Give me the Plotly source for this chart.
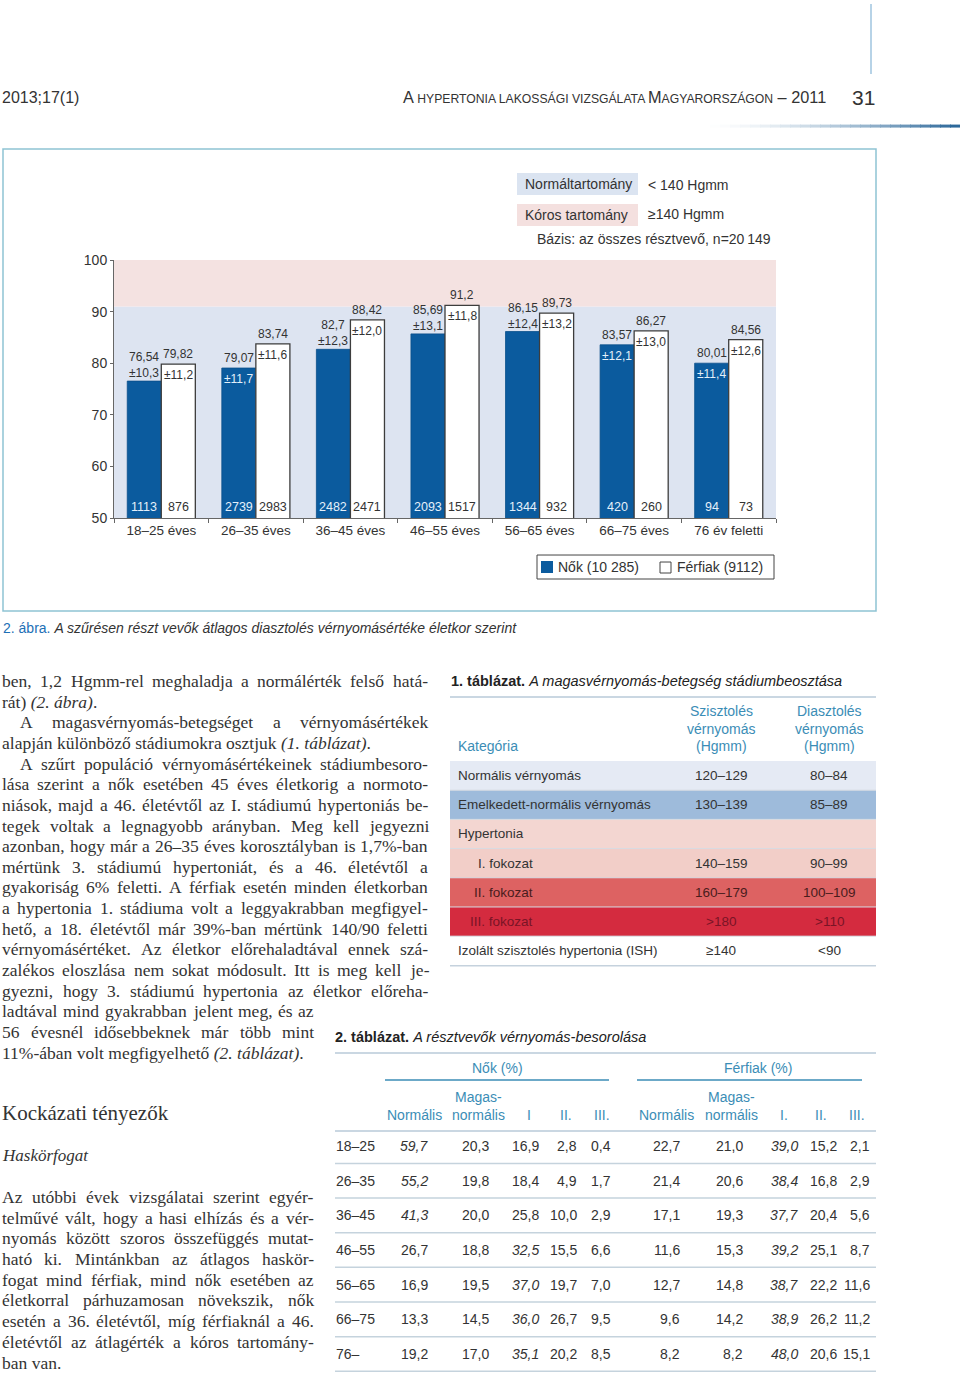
import plotly.graph_objects as go

W, H = 960, 1377
SANS = "Liberation Sans, Arial, Helvetica, sans-serif"
SERIF = "Liberation Serif, Times New Roman, serif"
TXT = "#333333"
TEAL = "#3b8db6"
BLUE = "#0b5b9e"
BAND_BLUE = "#dde4f1"
BAND_PINK = "#f4e2e1"

# ---------------- chart data ----------------
age_groups = ["18–25 éves", "26–35 éves", "36–45 éves", "46–55 éves",
              "56–65 éves", "66–75 éves", "76 év feletti"]
women_mean = [76.54, 79.07, 82.70, 85.69, 86.15, 83.57, 80.01]
men_mean = [79.82, 83.74, 88.42, 91.20, 89.73, 86.27, 84.56]
women_sd = [10.3, 11.7, 12.3, 13.1, 12.4, 12.1, 11.4]
men_sd = [11.2, 11.6, 12.0, 11.8, 13.2, 13.0, 12.6]
women_n = [1113, 2739, 2482, 2093, 1344, 420, 94]
men_n = [876, 2983, 2471, 1517, 932, 260, 73]
y_ticks = [50, 60, 70, 80, 90, 100]
band_split = 91
legend_women = "Nők (10 285)"
legend_men = "Férfiak (9112)"

# style: whether the women SD label sits inside the bar
WOMEN_SD_INSIDE = [False, True, False, False, False, True, True]

# ---------------- table 1 data ----------------
t1_categories = ["Normális vérnyomás", "Emelkedett-normális vérnyomás", "Hypertonia",
                 "I. fokozat", "II. fokozat", "III. fokozat",
                 "Izolált szisztolés hypertonia (ISH)"]
t1_systolic = ["120–129", "130–139", "", "140–159", "160–179", "&gt;180", "≥140"]
t1_diastolic = ["80–84", "85–89", "", "90–99", "100–109", "&gt;110", "&lt;90"]

# ---------------- table 2 data ----------------
t2_ages = ["18–25", "26–35", "36–45", "46–55", "56–65", "66–75", "76–"]
women_normal = [59.7, 55.2, 41.3, 26.7, 16.9, 13.3, 19.2]
women_highnormal = [20.3, 19.8, 20.0, 18.8, 19.5, 14.5, 17.0]
women_I = [16.9, 18.4, 25.8, 32.5, 37.0, 36.0, 35.1]
women_II = [2.8, 4.9, 10.0, 15.5, 19.7, 26.7, 20.2]
women_III = [0.4, 1.7, 2.9, 6.6, 7.0, 9.5, 8.5]
men_normal = [22.7, 21.4, 17.1, 11.6, 12.7, 9.6, 8.2]
men_highnormal = [21.0, 20.6, 19.3, 15.3, 14.8, 14.2, 8.2]
men_I = [39.0, 38.4, 37.7, 39.2, 38.7, 38.9, 48.0]
men_II = [15.2, 16.8, 20.4, 25.1, 22.2, 26.2, 20.6]
men_III = [2.1, 2.9, 5.6, 8.7, 11.6, 11.2, 15.1]

# ---------------- body text ----------------
body_lines = [
    ("ben, 1,2 Hgmm-rel meghaladja a normálérték felső hatá-", True),
    ("rát) <i>(2. ábra)</i>.", False),
    ("A magasvérnyomás-betegséget a vérnyomásértékek", True),
    ("alapján különböző stádiumokra osztjuk <i>(1. táblázat)</i>.", False),
    ("A szűrt populáció vérnyomásértékeinek stádiumbesoro-", True),
    ("lása szerint a nők esetében 45 éves életkorig a normoto-", True),
    ("niások, majd a 46. életévtől az I. stádiumú hypertoniás be-", True),
    ("tegek voltak a legnagyobb arányban. Meg kell jegyezni", True),
    ("azonban, hogy már a 26–35 éves korosztályban is 1,7%-ban", True),
    ("mértünk 3. stádiumú hypertoniát, és a 46. életévtől a", True),
    ("gyakoriság 6% feletti. A férfiak esetén minden életkorban", True),
    ("a hypertonia 1. stádiuma volt a leggyakrabban megfigyel-", True),
    ("hető, a 18. életévtől már 39%-ban mértünk 140/90 feletti", True),
    ("vérnyomásértéket. Az életkor előrehaladtával ennek szá-", True),
    ("zalékos eloszlása nem sokat módosult. Itt is meg kell je-", True),
    ("gyezni, hogy 3. stádiumú hypertonia az életkor előreha-", True),
    ("ladtával mind gyakrabban jelent meg, és az", True),
    ("56 évesnél idősebbeknek már több mint", True),
    ("11%-ában volt megfigyelhető <i>(2. táblázat)</i>.", False),
]
BODY_INDENT = [0, 0, 18, 0, 18] + [0] * 14
BODY_RIGHT = [428] * 16 + [314, 314, 314]

section_title = "Kockázati tényezők"
sub_title = "Haskörfogat"
para2_lines = [
    ("Az utóbbi évek vizsgálatai szerint egyér-", True),
    ("telművé vált, hogy a hasi elhízás és a vér-", True),
    ("nyomás között szoros összefüggés mutat-", True),
    ("ható ki. Mintánkban az átlagos haskör-", True),
    ("fogat mind férfiak, mind nők esetében az", True),
    ("életkorral párhuzamosan növekszik, nők", True),
    ("esetén a 36. életévtől, míg férfiaknál a 46.", True),
    ("életévtől az átlagérték a kóros tartomány-", True),
    ("ban van.", False),
]

# ---------------- helpers ----------------
# vertical page-capture compensation (page is photographed 16px taller, offset 8px)
SY = 1393.0 / 1377.0
OY = 8.0


def X(p):
    return p / W


def Y(p):
    return 1 - (p * SY - OY) / H


annotations = []
shapes = []


def text(x, y, s, size=14, color=TXT, family=SANS, xanchor="left", yanchor="middle", align="left"):
    annotations.append(dict(x=X(x), y=Y(y), xref="paper", yref="paper", text=s, showarrow=False,
                            font=dict(size=size, color=color, family=family),
                            xanchor=xanchor, yanchor=yanchor, align=align,
                            borderpad=0, borderwidth=0))


def rect(x0, y0, x1, y1, fill="rgba(0,0,0,0)", line=None, lw=1):
    shapes.append(dict(type="rect", xref="paper", yref="paper",
                       x0=X(x0), x1=X(x1), y0=Y(y1), y1=Y(y0), fillcolor=fill,
                       line=dict(color=line if line else "rgba(0,0,0,0)", width=lw if line else 0)))


def hline(x0, x1, y, color, width=1):
    shapes.append(dict(type="line", xref="paper", yref="paper", x0=X(x0), x1=X(x1),
                       y0=Y(y), y1=Y(y), line=dict(color=color, width=width)))


def vline(x, y0, y1, color, width=1):
    shapes.append(dict(type="line", xref="paper", yref="paper", x0=X(x), x1=X(x),
                       y0=Y(y0), y1=Y(y1), line=dict(color=color, width=width)))


TW = {' ': 250, '!': 333, '%': 833, '(': 333, ')': 333, ',': 250, '-': 333, '.': 250, '/': 278,
      ':': 278, ';': 278, '–': 500, '?': 444,
      'A': 722, 'B': 667, 'C': 667, 'D': 722, 'E': 611, 'F': 556, 'G': 722, 'H': 722, 'I': 333,
      'J': 389, 'K': 722, 'L': 611, 'M': 889, 'N': 722, 'O': 722, 'P': 556, 'Q': 722, 'R': 667,
      'S': 556, 'T': 611, 'U': 722, 'V': 722, 'W': 944, 'X': 722, 'Y': 722, 'Z': 611,
      'a': 444, 'b': 500, 'c': 444, 'd': 500, 'e': 444, 'f': 333, 'g': 500, 'h': 500, 'i': 278,
      'j': 278, 'k': 500, 'l': 278, 'm': 778, 'n': 500, 'o': 500, 'p': 500, 'q': 500, 'r': 333,
      's': 389, 't': 278, 'u': 500, 'v': 500, 'w': 722, 'x': 500, 'y': 500, 'z': 444}
BASE = {'á': 'a', 'é': 'e', 'í': 'i', 'ó': 'o', 'ö': 'o', 'ő': 'o', 'ú': 'u', 'ü': 'u', 'ű': 'u',
        'Á': 'A', 'É': 'E', 'Í': 'I', 'Ó': 'O', 'Ö': 'O', 'Ő': 'O', 'Ú': 'U', 'Ü': 'U', 'Ű': 'U'}


def tw(s, size):
    return sum(TW.get(BASE.get(c, c), 500) for c in s) * size / 1000.0


def serif_line(x0, x1, y, line, justify, size=17.5):
    if not justify:
        text(x0, y, line, size, family=SERIF)
        return
    words = line.split()
    widths = [tw(w, size) for w in words]
    gap = (x1 - x0 - sum(widths)) / max(len(words) - 1, 1)
    gap = max(gap, size * 0.2)
    x = x0
    for w, wd in zip(words, widths):
        text(x, y, w, size, family=SERIF)
        x += wd + gap


def fmt_mean(v):
    return f"{v:.2f}".rstrip('0').rstrip('.').replace('.', ',')


def fmt1(v):
    return f"{v:.1f}".replace('.', ',')


# ---------------- page header ----------------
vline(871, 4, 74, "#9fc4df", 1.5)
text(2, 97, "2013;17(1)", 16)
text(826, 97, "A<span style='font-size:12.2px'> HYPERTONIA LAKOSSÁGI VIZSGÁLATA </span>M"
     "<span style='font-size:12.2px'>AGYARORSZÁGON</span> – 2011", 16.3, xanchor="right")
text(852, 97, "31", 21)
NSEG = 26
for k in range(NSEG):
    t = (k / (NSEG - 1)) ** 1.6
    c = tuple(int(255 + (e - 255) * t) for e in (44, 104, 154))
    hline(700 + k * 10, 711 + k * 10, 126, "rgb(%d,%d,%d)" % c, 3)

# ---------------- chart ----------------
fig = go.Figure()
fig.add_trace(go.Bar(x=age_groups, y=women_mean, name=legend_women, showlegend=False,
                     marker=dict(color=BLUE, line=dict(color="#0a4f8a", width=0.8)),
                     hoverinfo="skip"))
fig.add_trace(go.Bar(x=age_groups, y=men_mean, name=legend_men, showlegend=False,
                     marker=dict(color="white", line=dict(color="#3d3d3d", width=1.3)),
                     hoverinfo="skip"))

BARGAP = 0.28
off = (1 - BARGAP) / 4.0

# bands
for y0, y1, col in [(y_ticks[0], band_split, BAND_BLUE), (band_split, y_ticks[-1], BAND_PINK)]:
    shapes.append(dict(type="rect", xref="x", yref="y", x0=-0.5, x1=len(age_groups) - 0.5,
                       y0=y0, y1=y1, fillcolor=col, line=dict(width=0), layer="below"))

for i in range(len(age_groups)):
    xw = i - off
    if WOMEN_SD_INSIDE[i]:
        annotations.append(dict(x=xw, y=women_mean[i], xref="x", yref="y", text=fmt_mean(women_mean[i]),
                                showarrow=False, yanchor="bottom", yshift=2, borderpad=0,
                                font=dict(size=12, color=TXT, family=SANS)))
        annotations.append(dict(x=xw, y=women_mean[i], xref="x", yref="y", text="±" + fmt1(women_sd[i]),
                                showarrow=False, yanchor="top", yshift=-3, borderpad=0,
                                font=dict(size=12, color="#e4f0fa", family=SANS)))
    else:
        annotations.append(dict(x=xw, y=women_mean[i], xref="x", yref="y",
                                text=fmt_mean(women_mean[i]) + "<br>±" + fmt1(women_sd[i]),
                                showarrow=False, yanchor="bottom", yshift=0, borderpad=0, align="center",
                                font=dict(size=12, color=TXT, family=SANS)))
    xm = i + off
    annotations.append(dict(x=xm, y=men_mean[i], xref="x", yref="y", text=fmt_mean(men_mean[i]),
                            showarrow=False, yanchor="bottom", yshift=2, borderpad=0,
                            font=dict(size=12, color=TXT, family=SANS)))
    annotations.append(dict(x=xm, y=men_mean[i], xref="x", yref="y", text="±" + fmt1(men_sd[i]),
                            showarrow=False, yanchor="top", yshift=-3, borderpad=0,
                            font=dict(size=12, color=TXT, family=SANS)))
    annotations.append(dict(x=xw, y=y_ticks[0], xref="x", yref="y", text=str(women_n[i]),
                            showarrow=False, yanchor="bottom", yshift=3, borderpad=0,
                            font=dict(size=12.5, color="#e4f0fa", family=SANS)))
    annotations.append(dict(x=xm, y=y_ticks[0], xref="x", yref="y", text=str(men_n[i]),
                            showarrow=False, yanchor="bottom", yshift=3, borderpad=0,
                            font=dict(size=12.5, color=TXT, family=SANS)))

# chart frame
rect(3, 149, 876, 611, line="#8ec3d4", lw=1.5)

# top legend
rect(517, 173, 638, 195, fill="#dbe4f1")
text(525, 184, "Normáltartomány", 14)
text(648, 185, "&lt; 140 Hgmm", 14)
rect(517, 204, 638, 226, fill="#f4e0df")
text(525, 215, "Kóros tartomány", 14)
text(648, 214, "≥140 Hgmm", 14)
text(537, 239, "Bázis: az összes résztvevő, n=20\u2009149", 14)

# bottom legend (drawn from the two bar series' styles)
rect(537, 555, 774, 579, line="#444444", lw=1)
rect(541, 561, 553, 573, fill=BLUE)
text(558, 567, legend_women, 14)
rect(660, 562, 671, 573, fill="white", line="#444444", lw=1)
text(677, 567, legend_men, 14)

# caption
text(3, 628, "<span style='color:#1d6fb6'>2. ábra.</span> <i>A szűrésen részt vevők átlagos "
     "diasztolés vérnyomásértéke életkor szerint</i>", 14)

# ---------------- body text, left column ----------------
for k, (line, just) in enumerate(body_lines):
    serif_line(2 + BODY_INDENT[k], BODY_RIGHT[k], 681 + k * 20.65, line, just)

text(2, 1113, section_title, 21, family=SERIF)
text(2, 1156, "<i>" + sub_title + "</i>", 17, family=SERIF)
for k, (line, just) in enumerate(para2_lines):
    serif_line(2, 314, 1197 + k * 20.7, line, just)

# ---------------- table 1 ----------------
text(451, 681, "<b>1. táblázat.</b> <i>A magasvérnyomás-betegség stádiumbeosztása</i>", 14.5, color="#222222")
hline(450, 876, 697, "#b8cad8", 1.5)
text(458, 746, "Kategória", 14, color=TEAL)
for cx, lab in [(721, "Szisztolés"), (829, "Diasztolés")]:
    text(cx, 711, lab, 14, color=TEAL, xanchor="center")
    text(cx, 729, "vérnyomás", 14, color=TEAL, xanchor="center")
    text(cx, 746, "(Hgmm)", 14, color=TEAL, xanchor="center")

T1_FILLS = ["#e5eaf4", "#9ebbdb", "#f3d6d1", "#f2cec8", "#dd6262", "#d42b3f", "#ffffff"]
T1_TEXT = [TXT, TXT, TXT, TXT, "#4a1c1c", "#7a1426", TXT]
T1_INDENT = [458, 458, 458, 478, 474, 470, 458]
T1_TOP, T1_RH = 761, 29.2
for r in range(len(t1_categories)):
    y0 = T1_TOP + r * T1_RH
    rect(450, y0, 876, y0 + T1_RH, fill=T1_FILLS[r])
    yc = y0 + T1_RH / 2
    text(T1_INDENT[r], yc, t1_categories[r], 13.5, color=T1_TEXT[r])
    if t1_systolic[r]:
        text(721, yc, t1_systolic[r], 13.5, color=T1_TEXT[r], xanchor="center")
        text(829, yc, t1_diastolic[r], 13.5, color=T1_TEXT[r], xanchor="center")
for r in range(1, len(t1_categories)):
    hline(450, 876, T1_TOP + r * T1_RH, "#d6dbe2", 1)
hline(450, 876, T1_TOP + len(t1_categories) * T1_RH + 0.5, "#c5d2dd", 1.5)

# ---------------- table 2 ----------------
text(335, 1037, "<b>2. táblázat.</b> <i>A résztvevők vérnyomás-besorolása</i>", 14.5, color="#222222")
hline(335, 876, 1053, "#b8cad8", 1.5)
text(497, 1068, "Nők (%)", 14, color=TEAL, xanchor="center")
text(758, 1068, "Férfiak (%)", 14, color=TEAL, xanchor="center")
hline(385, 609, 1080, TEAL, 1.5)
hline(637, 862, 1080, TEAL, 1.5)
T2_HEAD_X = [414, 478, 529, 566, 602, 666, 731, 784, 821, 857]
sub_heads = ["Normális", "normális", "I", "II.", "III.", "Normális", "normális", "I.", "II.", "III."]
for hx, lab in zip(T2_HEAD_X, sub_heads):
    text(hx, 1115, lab, 14, color=TEAL, xanchor="center")
text(T2_HEAD_X[1], 1097, "Magas-", 14, color=TEAL, xanchor="center")
text(T2_HEAD_X[6], 1097, "Magas-", 14, color=TEAL, xanchor="center")
hline(335, 876, 1131, "#b8cad8", 1.5)

women_cols = [women_normal, women_highnormal, women_I, women_II, women_III]
men_cols = [men_normal, men_highnormal, men_I, men_II, men_III]
T2_RIGHT = [428, 489, 539, 577, 611, 680, 743, 798, 837, 870]
T2_Y0, T2_RH = 1146, 34.65
for r, age in enumerate(t2_ages):
    yc = T2_Y0 + r * T2_RH
    text(336, yc, age, 14)
    for g, cols in enumerate([women_cols, men_cols]):
        vals = [c[r] for c in cols]
        vmax = max(vals)
        for j, v in enumerate(vals):
            s = fmt1(v)
            if v == vmax:
                s = "<i>" + s + "</i>"
            text(T2_RIGHT[g * 5 + j], yc, s, 14, xanchor="right")
    hline(335, 876, yc + 17.5, "#c5d3dd", 1.5)

# ---------------- layout ----------------
fig.update_layout(
    width=W, height=H, autosize=False,
    margin=dict(l=0, r=0, t=0, b=0),
    paper_bgcolor="white", plot_bgcolor="rgba(0,0,0,0)",
    barmode="group", bargap=BARGAP, bargroupgap=0,
    showlegend=False,
    xaxis=dict(domain=[X(114), X(776)], range=[-0.5, len(age_groups) - 0.5],
               showline=True, linecolor="#666666", linewidth=1,
               ticks="outside", tickson="boundaries", ticklen=4, tickcolor="#666666",
               tickfont=dict(size=13.5, color=TXT, family=SANS), showgrid=False, fixedrange=True),
    yaxis=dict(domain=[Y(518), Y(260)], range=[y_ticks[0], y_ticks[-1]], tickvals=y_ticks,
               showline=True, linecolor="#666666", linewidth=1,
               ticks="outside", ticklen=3, tickcolor="#666666",
               tickfont=dict(size=14, color=TXT, family=SANS), showgrid=False, zeroline=False,
               fixedrange=True),
    annotations=annotations,
    shapes=shapes,
)

fig.write_html("out.html", config={"displayModeBar": False},
               post_script="document.body.style.margin='0px';document.body.style.overflow='hidden';")
